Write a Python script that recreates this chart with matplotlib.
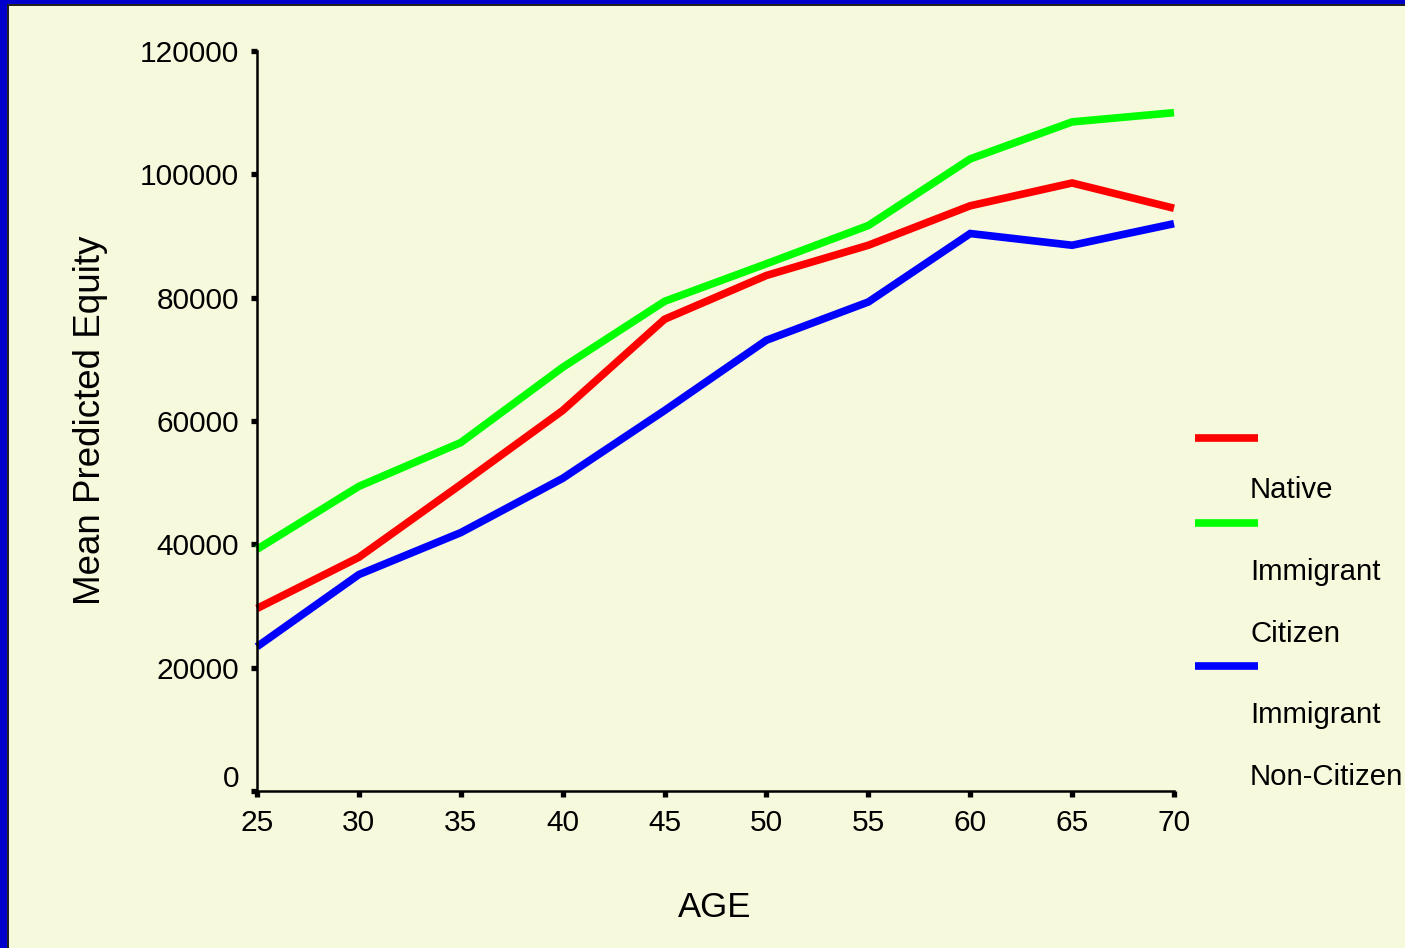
import matplotlib
matplotlib.use("Agg")
import matplotlib.pyplot as plt
from matplotlib.lines import Line2D
from matplotlib.patches import Rectangle
from matplotlib.transforms import ScaledTranslation

plt.rcParams['font.family'] = ['Liberation Sans', 'DejaVu Sans']

# Mean predicted equity by age group
ages = [25, 30, 35, 40, 45, 50, 55, 60, 65, 70]
native = [29600, 37900, 49700, 61700, 76500, 83600, 88500, 94900, 98600, 94500]
immigrant_citizen = [39200, 49400, 56500, 68700, 79400, 85500, 91700, 102500, 108500, 110000]
immigrant_noncitizen = [23400, 35100, 41900, 50700, 61700, 73100, 79300, 90400, 88500, 92000]

series_names = ["Native", "Immigrant\nCitizen", "Immigrant\nNon-Citizen"]
series_colors = ["#FF0000", "#00FF00", "#0000FF"]
yticks = [0, 20000, 40000, 60000, 80000, 100000, 120000]
xticks = [25, 30, 35, 40, 45, 50, 55, 60, 65, 70]

bg = "#F7F9DC"
W, H = 1405, 948
fig = plt.figure(figsize=(W / 100, H / 100), dpi=100, facecolor=bg)

# Frame strips along the left and top edges
fig.patches.append(Rectangle((0, 0), 7 / W, 1, transform=fig.transFigure,
                             facecolor="#0000CC", edgecolor="none", zorder=0))
fig.patches.append(Rectangle((7 / W, 0), 1.5 / W, 1 - 4 / H, transform=fig.transFigure,
                             facecolor="#222222", edgecolor="none", zorder=0))
fig.patches.append(Rectangle((0, 1 - 4 / H), 1, 4 / H, transform=fig.transFigure,
                             facecolor="#0000CC", edgecolor="none", zorder=0))
fig.patches.append(Rectangle((7 / W, 1 - 5.5 / H), 1, 1.5 / H, transform=fig.transFigure,
                             facecolor="#222222", edgecolor="none", zorder=0))

left, right, top, bottom = 257, 1174, 51, 791
ax = fig.add_axes([left / W, 1 - bottom / H, (right - left) / W, (bottom - top) / H])
ax.set_facecolor(bg)

for vals, color in zip([native, immigrant_citizen, immigrant_noncitizen], series_colors):
    ax.plot(ages, vals, color=color, lw=5.5, solid_joinstyle="miter",
            solid_capstyle="butt", clip_on=False)

ax.set_xlim(25, 70)
ax.set_ylim(0, 120000)
ax.set_xticks(xticks)
ax.set_xticklabels([str(v) for v in xticks])
ax.set_yticks(yticks)
ax.set_yticklabels([str(v) for v in yticks])

for side in ["top", "right"]:
    ax.spines[side].set_visible(False)
for side in ["left", "bottom"]:
    ax.spines[side].set_linewidth(1.8)
    ax.spines[side].set_color("black")

ax.tick_params(axis="both", direction="out", length=4, width=3.8, labelsize=21.5,
               colors="black")
ax.tick_params(axis="y", pad=9)
ax.tick_params(axis="x", pad=9)

# The zero label sits a little above its tick
zero_label = ax.get_yticklabels()[0]
zero_label.set_transform(zero_label.get_transform() + ScaledTranslation(0, 15 / 100, fig.dpi_scale_trans))

ax.set_xlabel("AGE", fontsize=25)
ax.xaxis.set_label_coords(0.4995, -0.158)
ax.xaxis.label.set_va("center")
ax.set_ylabel("Mean Predicted Equity", fontsize=26.5)
ax.yaxis.set_label_coords(-0.182, 0.501)
ax.yaxis.label.set_va("center")
ax.yaxis.label.set_ha("center")

# Legend drawn at the right margin
handle_rows = [438, 523, 666]
text_rows = [[490], [572, 634], [715, 777]]
for name, color, hy, ty in zip(series_names, series_colors, handle_rows, text_rows):
    fig.add_artist(Line2D([1195 / W, 1258 / W], [1 - hy / H, 1 - hy / H],
                          transform=fig.transFigure, color=color, lw=5.5,
                          solid_capstyle="butt"))
    for line, y in zip(name.split("\n"), ty):
        fig.text(1250 / W, 1 - y / H, line, fontsize=21.2, ha="left", va="center",
                 color="black")

fig.savefig("out.png", dpi=100, facecolor=bg)
